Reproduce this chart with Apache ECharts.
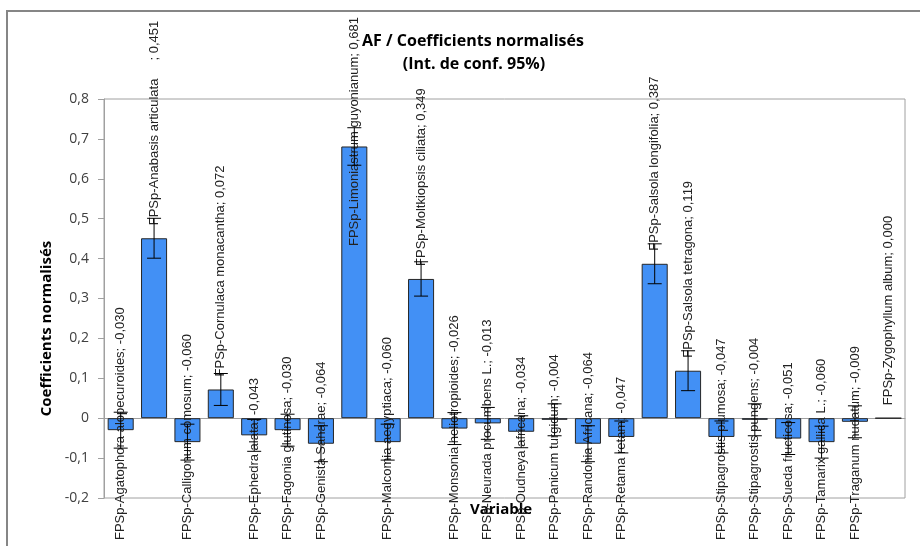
<!DOCTYPE html>
<html>
<head>
<meta charset="utf-8">
<script src="https://cdn.jsdelivr.net/npm/echarts@6/dist/echarts.min.js"></script>
<style>
  html, body { margin: 0; padding: 0; background: #fff; }
  #chart { width: 920px; height: 546px; }
</style>
</head>
<body>
<div id="chart"></div>
<script>
// species (data label names, as written on the chart)
var species = [
    'FPSp-Agatophora alopecuroides',
    'FPSp-Anabasis articulata     ',
    'FPSp-Calligonum comosum',
    'FPSp-Cornulaca monacantha',
    'FPSp-Ephedra alata',
    'FPSp-Fagonia glutinosa',
    'FPSp-Genista Saharae',
    'FPSp-Limoniastrum guyonianum',
    'FPSp-Malcomia aegyptiaca',
    'FPSp-Moltkiopsis ciliata',
    'FPSp-Monsonia heliotropioides',
    'FPSp-Neurada procumbens L.',
    'FPSp-Oudneya africana',
    'FPSp-Panicum turgidum',
    'FPSp-Randonia Africana',
    'FPSp-Retama retam',
    'FPSp-Salsola longifolia',
    'FPSp-Salsola tetragona',
    'FPSp-Stipagrostis plumosa',
    'FPSp-Stipagrostis pungens',
    'FPSp-Sueda fructicosa',
    'FPSp-Tamarix gallica L.',
    'FPSp-Traganum nudatum',
    'FPSp-Zygophyllum album'
];
// normalised coefficients
var coeffs = [-0.030, 0.451, -0.060, 0.072, -0.043, -0.030, -0.064, 0.681, -0.060, 0.349,
    -0.026, -0.013, -0.034, -0.004, -0.064, -0.047, 0.387, 0.119, -0.047, -0.004,
    -0.051, -0.060, -0.009, 0.000];
// half width of the 95% confidence interval
var ciHalf = [0.045, 0.050, 0.045, 0.040, 0.040, 0.040, 0.045, 0.047, 0.045, 0.043,
    0.040, 0.040, 0.040, 0.040, 0.045, 0.040, 0.050, 0.050, 0.040, 0.040,
    0.040, 0.040, 0.040, 0.000];
var yTicks = ['-0,2', '-0,1', '0', '0,1', '0,2', '0,3', '0,4', '0,5', '0,6', '0,7', '0,8'];

var labelFont = '13px "Liberation Sans"';
var measureCtx = document.createElement('canvas').getContext('2d');
measureCtx.font = labelFont;

function fr(v) {
    return v.toFixed(3).replace('.', ',');
}

var labelTexts = species.map(function(s, i) { return s + '; ' + fr(coeffs[i]); });
var errData = coeffs.map(function(v, i) { return [i, v - ciHalf[i], v + ciHalf[i]]; });
var lblData = coeffs.map(function(v, i) { return [i, v]; });

var myChart = echarts.init(document.getElementById('chart'));

var option = {
    animation: false,
    backgroundColor: '#fff',
    title: [{
        text: 'AF / Coefficients normalisés',
        left: 468, top: 28, textAlign: 'center',
        textStyle: { fontFamily: 'Open Sans', fontWeight: 'bold', fontSize: 16, color: '#000' }
    }, {
        text: '(Int. de conf. 95%)',
        left: 469, top: 51, textAlign: 'center',
        textStyle: { fontFamily: 'Open Sans', fontWeight: 'bold', fontSize: 16, color: '#000' }
    }],
    graphic: [{
        type: 'rect',
        shape: { x: 7, y: 11, width: 930, height: 560 },
        style: { fill: 'none', stroke: '#868686', lineWidth: 2 },
        silent: true
    }, {
        type: 'text', left: 470, top: 502,
        style: { text: 'Variable', font: 'bold 15px "Open Sans"', fill: '#000' }
    }],
    grid: {
        left: 104, right: 15, top: 99, bottom: 48,
        show: true, borderColor: '#a0a0a0', borderWidth: 1
    },
    xAxis: {
        type: 'category',
        data: species,
        axisLine: { onZero: true, lineStyle: { color: '#a0a0a0' } },
        axisTick: { show: false },
        axisLabel: { show: false }
    },
    yAxis: {
        type: 'value',
        min: -0.2, max: 0.8, interval: 0.1,
        name: 'Coefficients normalisés',
        nameLocation: 'middle', nameGap: 50, nameRotate: 90,
        nameTextStyle: { fontFamily: 'Open Sans', fontWeight: 'bold', fontSize: 15, color: '#000', padding: [0, 0, 0, -60] },
        axisLine: { show: true, lineStyle: { color: '#a0a0a0' } },
        axisTick: { show: true, length: 6, lineStyle: { color: '#a0a0a0' } },
        splitLine: { show: false },
        axisLabel: {
            fontFamily: 'Open Sans', fontSize: 14, color: '#404040', margin: 15,
            formatter: function(v) { return yTicks[Math.round((v + 0.2) * 10)]; }
        }
    },
    series: [{
        type: 'bar',
        data: coeffs,
        barCategoryGap: '22%',
        itemStyle: { color: '#4290f5', borderColor: '#262626', borderWidth: 1 },
        z: 2
    }, {
        type: 'custom',
        data: lblData,
        encode: { x: 0, y: 1 },
        z: 3,
        silent: true,
        renderItem: function(params, api) {
            var i = params.dataIndex;
            var v = api.value(1);
            var p = api.coord([api.value(0), v]);
            var txt = labelTexts[i];
            var w = measureCtx.measureText(txt).width;
            var start;
            if (v >= 0) {
                start = p[1] - 13;
                if (start - w < 17) start = 17 + w;
            } else {
                start = p[1] + 13 + w;
                if (start > 540) start = 540;
            }
            return {
                type: 'text',
                x: p[0], y: start,
                rotation: Math.PI / 2,
                style: { text: txt, x: 0, y: 0, font: labelFont, fill: '#222',
                    align: 'left', verticalAlign: 'middle' }
            };
        }
    }, {
        type: 'custom',
        data: errData,
        encode: { x: 0, y: [1, 2] },
        z: 4,
        silent: true,
        renderItem: function(params, api) {
            var lo = api.coord([api.value(0), api.value(1)]);
            var hi = api.coord([api.value(0), api.value(2)]);
            if (Math.abs(lo[1] - hi[1]) < 0.5) return;
            var c = 7;
            var st = { stroke: '#000', lineWidth: 1 };
            return {
                type: 'group',
                children: [
                    { type: 'line', shape: { x1: hi[0], y1: hi[1], x2: lo[0], y2: lo[1] }, style: st },
                    { type: 'line', shape: { x1: hi[0] - c, y1: hi[1], x2: hi[0] + c, y2: hi[1] }, style: st },
                    { type: 'line', shape: { x1: lo[0] - c, y1: lo[1], x2: lo[0] + c, y2: lo[1] }, style: st }
                ]
            };
        }
    }]
};

myChart.setOption(option);
</script>
</body>
</html>
